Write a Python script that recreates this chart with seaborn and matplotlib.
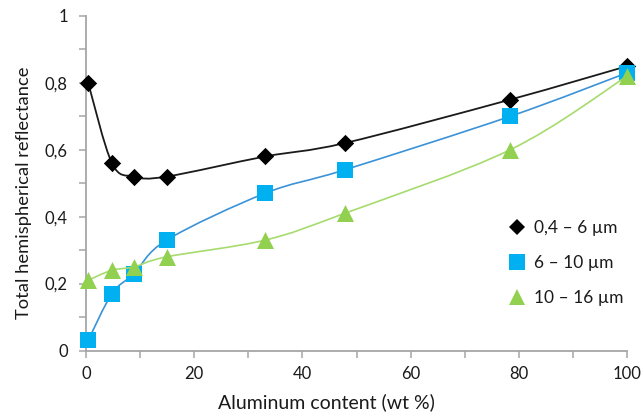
import numpy as np
import pandas as pd
import matplotlib
matplotlib.use("Agg")
import matplotlib.pyplot as plt
from matplotlib.path import Path
from matplotlib.patches import PathPatch
from matplotlib.ticker import MultipleLocator, FuncFormatter
from matplotlib.lines import Line2D
import seaborn as sns

# Aluminum content of the coatings (wt %)
aluminum = [0.4, 4.8, 8.9, 14.9, 33.1, 47.8, 78.4, 100]

# Total hemispherical reflectance per spectral band
band_labels = ["0,4 – 6 µm", "6 – 10 µm", "10 – 16 µm"]
refl_04_6 = [0.80, 0.56, 0.52, 0.52, 0.58, 0.62, 0.75, 0.85]
refl_6_10 = [0.03, 0.17, 0.23, 0.33, 0.47, 0.54, 0.70, 0.83]
refl_10_16 = [0.21, 0.24, 0.25, 0.28, 0.33, 0.41, 0.60, 0.82]

marker_colors = ["#000000", "#00B0F0", "#92D050"]
line_colors = ["#1a1a1a", "#3A92D8", "#A6DB6E"]
marker_shapes = ["D", "s", "^"]
marker_sizes = [78, 135, 150]

df = pd.DataFrame({
    "aluminum": aluminum * 3,
    "reflectance": refl_04_6 + refl_6_10 + refl_10_16,
    "band": [b for b in band_labels for _ in aluminum],
})

sns.set_theme(style="white")
plt.rcParams["font.family"] = ["Lato", "DejaVu Sans"]

fig = plt.figure(figsize=(6.44, 4.16), dpi=100)
ax = fig.add_axes([86 / 644, 1 - 350.5 / 416, (627 - 86) / 644, (350.5 - 16) / 416])


def smooth_path(xs, ys):
    """Cubic Bezier path through the points (spreadsheet-style smoothed line)."""
    pts = np.column_stack([xs, ys]).astype(float)
    n = len(pts)
    verts = [pts[0]]
    codes = [Path.MOVETO]
    for i in range(n - 1):
        p0 = pts[max(i - 1, 0)]
        p1 = pts[i]
        p2 = pts[i + 1]
        p3 = pts[min(i + 2, n - 1)]
        verts += [p1 + (p2 - p0) / 6, p2 - (p3 - p1) / 6, p2]
        codes += [Path.CURVE4] * 3
    return Path(verts, codes)


handles = []
for k, band in enumerate(band_labels):
    sub = df[df["band"] == band]
    patch = PathPatch(smooth_path(sub["aluminum"], sub["reflectance"]),
                      facecolor="none", edgecolor=line_colors[k],
                      linewidth=1.3 if k == 0 else 1.2,
                      zorder=3 + 2 * k, clip_on=False)
    ax.add_patch(patch)
    sns.scatterplot(data=sub, x="aluminum", y="reflectance", ax=ax,
                    marker=marker_shapes[k], color=marker_colors[k],
                    s=marker_sizes[k], linewidth=0, zorder=4 + 2 * k,
                    clip_on=False, legend=False)
    handles.append(Line2D([], [], linestyle="none", marker=marker_shapes[k],
                          color=marker_colors[k], markeredgewidth=0,
                          markersize=np.sqrt(marker_sizes[k]) * (0.95 if k else 0.9),
                          label=band))

ax.set_xlim(0, 100)
ax.set_ylim(0, 1)
ax.xaxis.set_major_locator(MultipleLocator(20))
ax.xaxis.set_minor_locator(MultipleLocator(10))
ax.yaxis.set_major_locator(MultipleLocator(0.2))
ax.yaxis.set_minor_locator(MultipleLocator(0.1))
ax.yaxis.set_major_formatter(FuncFormatter(
    lambda v, _: "0" if abs(v) < 1e-9 else ("1" if abs(v - 1) < 1e-9 else f"{v:.1f}".replace(".", ","))))

for side in ["top", "right"]:
    ax.spines[side].set_visible(False)
for side in ["left", "bottom"]:
    ax.spines[side].set_color("#A6A6A6")
    ax.spines[side].set_linewidth(1.3)

ax.tick_params(axis="both", which="both", direction="out", length=5, width=1.1,
               color="#A6A6A6", labelsize=12, labelcolor="#1a1a1a",
               bottom=True, left=True)
ax.tick_params(axis="y", which="major", pad=8)
ax.tick_params(axis="x", which="major", pad=6)

ax.set_xlabel("")
ax.set_ylabel("")
fig.text(326 / 644, 1 - 402 / 416, "Aluminum content (wt %)", ha="center", va="center",
         fontsize=14, color="#1a1a1a")
fig.text(24 / 644, 1 - 193 / 416, "Total hemispherical reflectance", ha="center", va="center",
         rotation=90, fontsize=13.2, color="#1a1a1a")

ax.legend(handles=handles, frameon=False, loc="upper left",
          bbox_to_anchor=(500 / 644, 1 - 211 / 416), bbox_transform=fig.transFigure,
          fontsize=12.5, handlelength=1.0, handletextpad=0.45, labelspacing=1.1,
          borderpad=0, labelcolor="#1a1a1a")

fig.savefig("out.png", dpi=100)
